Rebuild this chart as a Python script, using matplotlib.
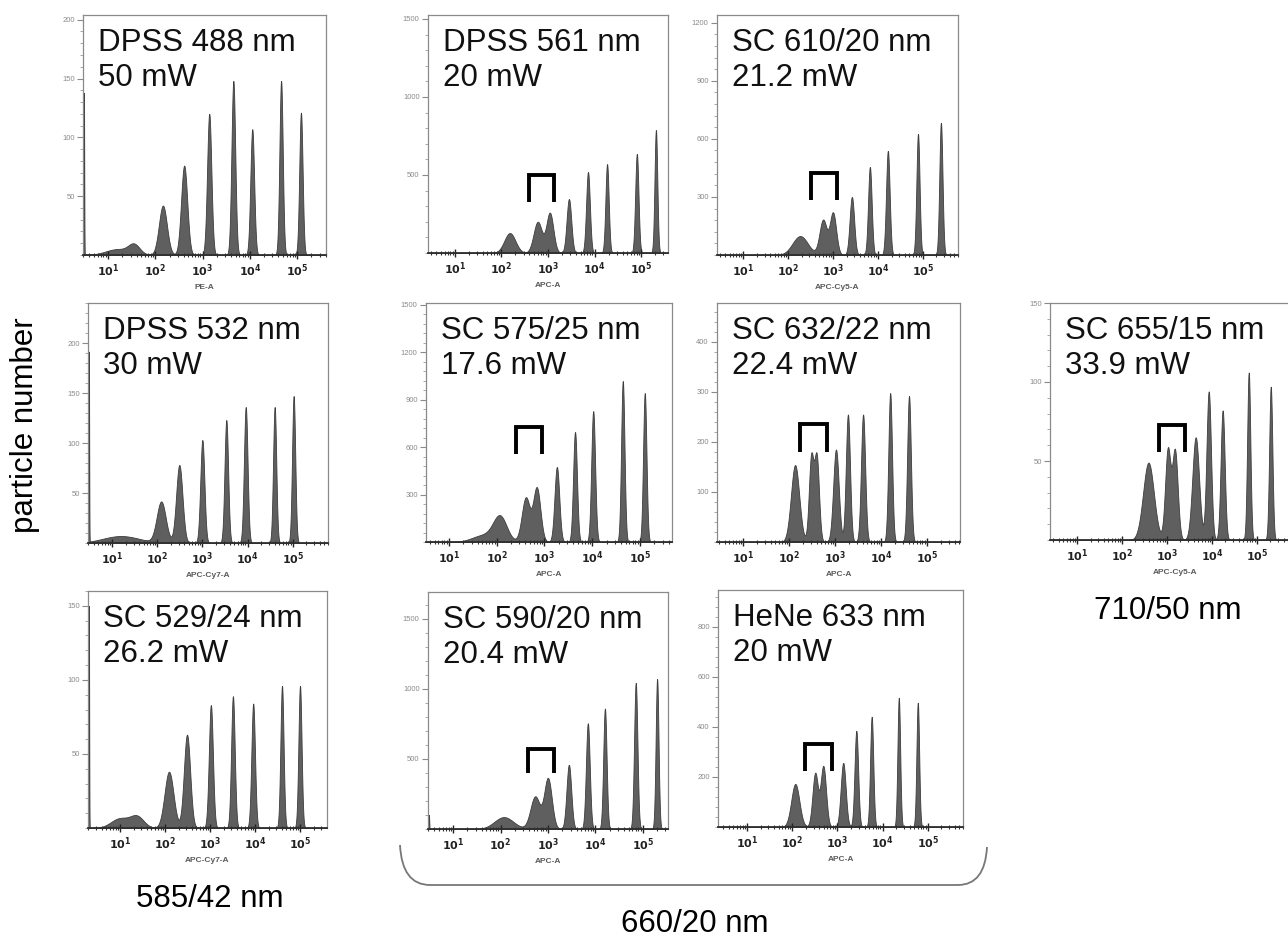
import numpy as np
import matplotlib
matplotlib.use('Agg')
from matplotlib import pyplot as plt
from matplotlib.path import Path
from matplotlib.patches import PathPatch
from matplotlib.ticker import FixedLocator, FixedFormatter, LogLocator, NullFormatter, MultipleLocator

plt.rcParams['font.family'] = ['Liberation Sans', 'DejaVu Sans']

# ---- data: peak position (log10 of intensity), count, width (decades)
p488_pos = [0.49, 1.2, 1.55, 2.16, 2.61, 3.14, 3.65, 4.05, 4.66, 5.08]
p488_cnt = [138, 5, 8, 42, 76, 120, 148, 107, 148, 121]
p488_wid = [0.006, 0.25, 0.12, 0.085, 0.065, 0.045, 0.04, 0.04, 0.035, 0.035]

p561_pos = [2.18, 2.78, 3.04, 3.45, 3.86, 4.27, 4.91, 5.32]
p561_cnt = [128, 200, 256, 346, 519, 570, 635, 788]
p561_wid = [0.12, 0.09, 0.075, 0.05, 0.04, 0.035, 0.035, 0.03]

p610_pos = [2.27, 2.78, 3.0, 3.42, 3.82, 4.22, 4.89, 5.4]
p610_cnt = [98, 181, 217, 300, 455, 538, 626, 683]
p610_wid = [0.17, 0.08, 0.07, 0.05, 0.04, 0.04, 0.035, 0.035]

p532_pos = [0.49, 1.2, 2.09, 2.49, 3.0, 3.53, 3.96, 4.6, 5.02]
p532_cnt = [190, 7, 41, 78, 103, 123, 136, 136, 147]
p532_wid = [0.006, 0.4, 0.1, 0.07, 0.045, 0.04, 0.04, 0.035, 0.035]

p575_pos = [1.75, 2.07, 2.61, 2.84, 3.26, 3.64, 4.02, 4.64, 5.1]
p575_cnt = [45, 150, 280, 340, 474, 695, 827, 1017, 941]
p575_wid = [0.25, 0.14, 0.085, 0.075, 0.05, 0.04, 0.04, 0.035, 0.035]

p632_pos = [2.13, 2.48, 2.6, 3.02, 3.28, 3.61, 4.2, 4.61]
p632_cnt = [154, 168, 168, 185, 255, 255, 298, 292]
p632_wid = [0.09, 0.05, 0.05, 0.06, 0.045, 0.045, 0.04, 0.04]

p655_pos = [2.59, 3.02, 3.18, 3.64, 3.93, 4.24, 4.82, 5.31]
p655_cnt = [49, 57, 56, 65, 94, 82, 106, 97]
p655_wid = [0.12, 0.06, 0.06, 0.075, 0.05, 0.045, 0.035, 0.035]

p529_pos = [0.31, 1.0, 1.38, 2.09, 2.49, 3.02, 3.51, 3.96, 4.6, 5.0]
p529_cnt = [150, 6.5, 7.5, 38, 63, 83, 89, 84, 96, 96]
p529_wid = [0.006, 0.2, 0.15, 0.1, 0.07, 0.045, 0.04, 0.04, 0.035, 0.035]

p590_pos = [0.49, 2.07, 2.73, 3.0, 3.44, 3.84, 4.2, 4.85, 5.3]
p590_cnt = [100, 85, 232, 359, 458, 754, 859, 1042, 1070]
p590_wid = [0.006, 0.2, 0.1, 0.08, 0.05, 0.04, 0.035, 0.035, 0.03]

p633_pos = [2.07, 2.51, 2.69, 3.13, 3.42, 3.76, 4.36, 4.78]
p633_cnt = [172, 214, 242, 256, 384, 440, 516, 496]
p633_wid = [0.09, 0.06, 0.06, 0.055, 0.04, 0.035, 0.03, 0.03]

# doublet brackets: (log10 left, log10 right, count bottom, count top)
br561 = (2.59, 3.13, 327, 500)
br610 = (2.51, 3.09, 284, 424)
br575 = (2.40, 2.95, 556, 726)
br632 = (2.24, 2.83, 180, 236)
br655 = (2.82, 3.40, 56, 73)
br590 = (2.58, 3.13, 400, 570)
br633 = (2.29, 2.89, 224, 332)

W, H = 1288, 948
fig = plt.figure(figsize=(W / 100, H / 100), dpi=100)


def px_rect(l, t, r, b):
    return [l / W, 1 - b / H, (r - l) / W, (b - t) / H]


# title, x label, data, bracket, axes box (px), xlim (log10), ymax, ytick step, minor step
panels = [
    ('DPSS 488 nm\n50 mW', 'PE-A', p488_pos, p488_cnt, p488_wid, None,
     (83, 15, 326, 255), (0.47, 5.61), 204, 50, 10),
    ('DPSS 561 nm\n20 mW', 'APC-A', p561_pos, p561_cnt, p561_wid, br561,
     (428, 15, 668, 253), (0.42, 5.58), 1525, 500, 100),
    ('SC 610/20 nm\n21.2 mW', 'APC-Cy5-A', p610_pos, p610_cnt, p610_wid, br610,
     (717, 15, 958, 255), (0.42, 5.78), 1240, 300, 60),
    ('DPSS 532 nm\n30 mW', 'APC-Cy7-A', p532_pos, p532_cnt, p532_wid, None,
     (88, 303, 328, 543), (0.47, 5.78), 240, 50, 10),
    ('SC 575/25 nm\n17.6 mW', 'APC-A', p575_pos, p575_cnt, p575_wid, br575,
     (426, 303, 672, 542), (0.52, 5.67), 1510, 300, 60),
    ('SC 632/22 nm\n22.4 mW', 'APC-A', p632_pos, p632_cnt, p632_wid, br632,
     (717, 303, 960, 542), (0.43, 5.72), 478, 100, 20),
    ('SC 655/15 nm\n33.9 mW', 'APC-Cy5-A', p655_pos, p655_cnt, p655_wid, br655,
     (1050, 303, 1300, 540), (0.40, 5.96), 150, 50, 10),
    ('SC 529/24 nm\n26.2 mW', 'APC-Cy7-A', p529_pos, p529_cnt, p529_wid, None,
     (88, 591, 327, 828), (0.29, 5.60), 160, 50, 10),
    ('SC 590/20 nm\n20.4 mW', 'APC-A', p590_pos, p590_cnt, p590_wid, br590,
     (428, 592, 668, 829), (0.47, 5.53), 1690, 500, 100),
    ('HeNe 633 nm\n20 mW', 'APC-A', p633_pos, p633_cnt, p633_wid, br633,
     (718, 590, 963, 827), (0.36, 5.78), 946, 200, 40),
]

for title, xlab, pos, cnt, wid, br, box, xl, ymax, ystep, ymin_step in panels:
    ax = fig.add_axes(px_rect(*box))
    x = np.linspace(xl[0], xl[1], 5000)
    y = np.zeros_like(x)
    for c, h, s in zip(pos, cnt, wid):
        y += h * np.exp(-0.5 * ((x - c) / s) ** 2)
    ax.set_xscale('log')
    ax.fill_between(10 ** x, 0, y, facecolor='#5f5f5f', edgecolor='#3d3d3d', lw=0.6)
    if br is not None:
        bx = [10 ** br[0], 10 ** br[0], 10 ** br[1], 10 ** br[1]]
        by = [br[2], br[3], br[3], br[2]]
        ax.plot(bx, by, color='black', lw=2.8, solid_joinstyle='miter', solid_capstyle='butt')
    ax.set_xlim(10 ** xl[0], 10 ** xl[1])
    ax.set_ylim(0, ymax)

    dec = [10.0 ** k for k in range(1, 6)]
    ax.xaxis.set_major_locator(FixedLocator(dec))
    ax.xaxis.set_major_formatter(FixedFormatter([r'$\mathbf{10^{%d}}$' % k for k in range(1, 6)]))
    ax.xaxis.set_minor_locator(LogLocator(base=10, subs=np.arange(2, 10), numticks=20))
    ax.xaxis.set_minor_formatter(NullFormatter())
    ax.tick_params(axis='x', which='major', direction='inout', length=6, width=1.0,
                   labelsize=8, colors='#222222', pad=2)
    ax.tick_params(axis='x', which='minor', direction='inout', length=3.5, width=0.8, colors='#333333')

    yt = np.arange(ystep, ymax + 1, ystep)
    ax.yaxis.set_major_locator(FixedLocator(yt))
    ax.yaxis.set_minor_locator(MultipleLocator(ymin_step))
    ax.tick_params(axis='y', which='major', direction='out', length=4, width=0.8,
                   labelsize=5.5, colors='#8a8a8a', pad=2)
    ax.tick_params(axis='y', which='minor', direction='out', length=2.5, width=0.6, colors='#9a9a9a')

    for side in ['top', 'right', 'left']:
        ax.spines[side].set_color('#8a8a8a')
        ax.spines[side].set_linewidth(0.9)
    ax.spines['bottom'].set_color('#2e2e2e')
    ax.spines['bottom'].set_linewidth(1.3)

    ax.set_xlabel(xlab, fontsize=6, fontweight='bold', color='#5a5a5a', labelpad=4)
    ax.annotate(title, xy=(0, 1), xycoords='axes fraction', xytext=(15, -13),
                textcoords='offset pixels', ha='left', va='top', fontsize=22.5,
                linespacing=1.2, color='#111111')

fig.text(25 / W, 1 - 425 / H, 'particle number', rotation=90, ha='center', va='center', fontsize=22.5)
fig.text(210 / W, 1 - 899 / H, '585/42 nm', ha='center', va='center', fontsize=22.5)
fig.text(1168 / W, 1 - 611 / H, '710/50 nm', ha='center', va='center', fontsize=22.5)
fig.text(695 / W, 1 - 924 / H, '660/20 nm', ha='center', va='center', fontsize=22.5)

# curly brace grouping the 660/20 nm panels
pts = [(400, 845), (402, 885), (430, 885), (958, 885), (985, 885), (987, 847)]
verts = [(px / W, 1 - py / H) for px, py in pts]
codes = [Path.MOVETO, Path.CURVE3, Path.CURVE3, Path.LINETO, Path.CURVE3, Path.CURVE3]
fig.patches.append(PathPatch(Path(verts, codes), transform=fig.transFigure,
                             fill=False, edgecolor='#777777', lw=1.3))

fig.savefig('out.png', dpi=100)
